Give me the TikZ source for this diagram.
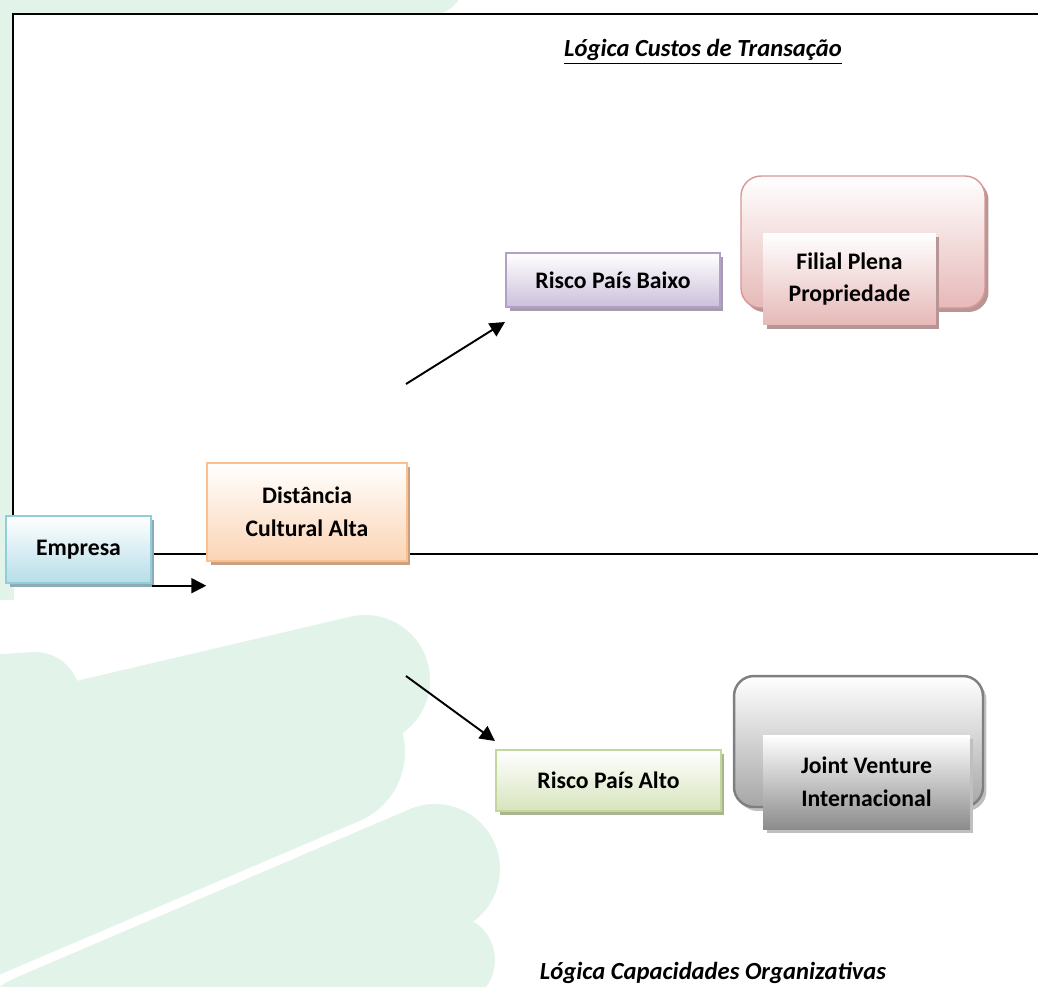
\documentclass[tikz,border=0pt]{standalone}
\usepackage{fontspec}
\setmainfont{Carlito}
\usetikzlibrary{arrows.meta,shadows}

\definecolor{bggreen}{HTML}{E2F3EA}
\definecolor{empB}{HTML}{92CDDC}\definecolor{empF}{HTML}{B6DDE8}\definecolor{empS}{HTML}{8FAAB4}
\definecolor{disB}{HTML}{FAC090}\definecolor{disF}{HTML}{FBD4B4}\definecolor{disS}{HTML}{C8A183}
\definecolor{baiB}{HTML}{B2A1C7}\definecolor{baiF}{HTML}{CCC0DA}\definecolor{baiS}{HTML}{A69CB0}
\definecolor{filB}{HTML}{D99694}\definecolor{filF}{HTML}{E6B9B8}\definecolor{filS}{HTML}{B99696}
\definecolor{altB}{HTML}{C3D69B}\definecolor{altF}{HTML}{D7E4BD}\definecolor{altS}{HTML}{A9B591}
\definecolor{jvB}{HTML}{7F7F7F}\definecolor{jvF}{HTML}{A6A6A6}\definecolor{jvS}{HTML}{BFBFBF}
\definecolor{jvI}{HTML}{8C8C8C}

\tikzset{
  box/.style n args={3}{draw=#1, line width=0.8pt, top color=white, bottom color=#2,
    drop shadow={fill=#3, opacity=1, shadow xshift=0.07cm, shadow yshift=-0.08cm},
    font=\fontsize{13.5}{18.7}\selectfont\bfseries, align=center, inner sep=0pt},
  outerbox/.style={rounded corners=0.4cm},
  heading/.style={font=\fontsize{14}{17}\selectfont\bfseries\itshape},
  brush/.style={bggreen, line cap=round, line width=#1}
}

\begin{document}
\begin{tikzpicture}[x=0.02cm, y=-0.02cm, >={Triangle[length=0.3cm, width=0.3cm]}]
    \useasboundingbox (0,0) rectangle (1038,987);

    \draw[brush=1.4cm] (-50,-20) -- (430,-20);
    \fill[bggreen] (0,0) rectangle (14,600);
    \draw[brush=1.8cm] (-10,700) -- (35,697);
    \draw[brush=2.6cm] (-40,775) -- (365,680);
    \draw[brush=3.0cm] (-40,910) -- (330,752);
    \draw[brush=2.6cm] (40,1038) -- (435,869);
    \draw[brush=1.8cm] (300,1000) -- (450,960);

    \draw[line width=1.1pt, fill=white] (1038,14) -- (13,14) -- (13,554) -- (1038,554);

    \node[heading] (tctitle) at (703,52) {\underline{Lógica Custos de Transação}};
    \node[heading, anchor=base] (cotitle) at (713,979) {Lógica Capacidades Organizativas};

    \node[box={empB}{empF}{empS}, minimum width=2.9cm, minimum height=1.34cm]
        (empresa) at (78.5,549.5) {Empresa};
    \node[box={disB}{disF}{disS}, minimum width=4.0cm, minimum height=1.96cm]
        (distancia) at (307,512) {Distância\\Cultural Alta};
    \node[box={baiB}{baiF}{baiS}, minimum width=4.28cm, minimum height=1.08cm]
        (baixo) at (613,280) {Risco País Baixo};
    \node[box={altB}{altF}{altS}, minimum width=4.5cm, minimum height=1.22cm]
        (alto) at (608.5,780.5) {Risco País Alto};

    \node[box={filB}{filF}{filS}, outerbox, minimum width=4.88cm, minimum height=2.64cm]
        (filialbg) at (863,242) {};
    \node[box={none}{filF}{filS}, minimum width=3.46cm, minimum height=1.84cm]
        (filial) at (849.5,279) {Filial Plena\\Propriedade};

    \node[box={jvB}{jvF}{jvS}, outerbox, line width=1.4pt, minimum width=4.98cm, minimum height=2.62cm]
        (jointbg) at (858.5,741.5) {};
    \node[box={none}{jvI}{jvS}, minimum width=4.14cm, minimum height=1.88cm]
        (joint) at (866.5,782) {Joint Venture\\Internacional};

    \coordinate (upstart) at (406,384);
    \coordinate (upend) at (505,322);
    \coordinate (dnstart) at (406,676);
    \coordinate (dnend) at (495,741);

    \draw[->, line width=1.1pt] ([yshift=-0.04cm]empresa.south east)
        -- ([yshift=-0.04cm]empresa.south east -| distancia.west);
    \draw[->, line width=1.1pt] (upstart) -- (upend);
    \draw[->, line width=1.1pt] (dnstart) -- (dnend);
\end{tikzpicture}
\end{document}
